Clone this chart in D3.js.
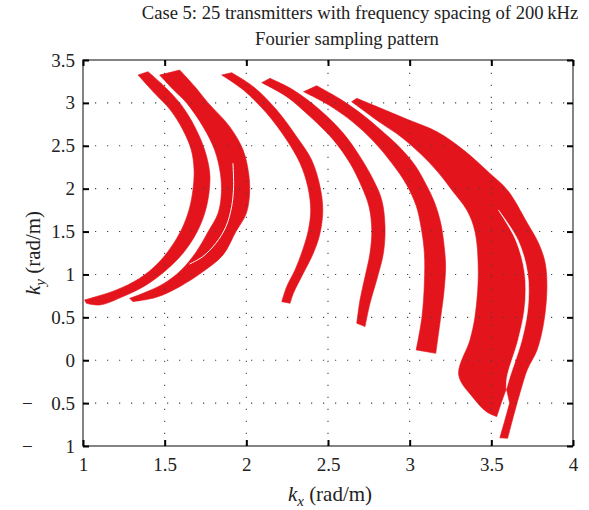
<!DOCTYPE html>
<html>
<head>
<meta charset="utf-8">
<script src="https://cdn.jsdelivr.net/npm/d3@7"></script>
<style>
  body { margin: 0; background: #fff; }
  text { font-family: "Liberation Serif", "DejaVu Serif", serif; fill: #222; }
</style>
</head>
<body>
<div id="chart-area"></div>
<script>
var titleLines = ["Case 5: 25 transmitters with frequency spacing of 200\u2009kHz", "Fourier sampling pattern"];
var xTicks = [1, 1.5, 2, 2.5, 3, 3.5, 4];
var yTicks = [-1, -0.5, 0, 0.5, 1, 1.5, 2, 2.5, 3, 3.5];

var band1Outer = [[1.398,3.364],[1.500,3.189],[1.602,2.976],[1.684,2.723],[1.745,2.451],[1.776,2.179],[1.771,1.946],[1.745,1.713],[1.694,1.480],[1.612,1.247],[1.510,1.052],[1.388,0.878],[1.245,0.742],[1.102,0.644],[1.020,0.664]];
var band1Inner = [[1.337,3.325],[1.439,3.111],[1.535,2.917],[1.612,2.684],[1.663,2.451],[1.680,2.218],[1.673,1.985],[1.649,1.752],[1.602,1.519],[1.541,1.324],[1.459,1.130],[1.347,0.955],[1.204,0.819],[1.082,0.742],[1.010,0.703]];

var band2Outer = [[1.592,3.383],[1.680,3.200],[1.765,3.003],[1.898,2.723],[1.980,2.451],[2.014,2.179],[2.020,1.946],[2.000,1.713],[1.935,1.495],[1.857,1.227],[1.735,1.033],[1.592,0.858],[1.449,0.734],[1.306,0.683]];
var band2Inner = [[1.469,3.325],[1.550,3.160],[1.633,3.003],[1.735,2.723],[1.806,2.451],[1.841,2.179],[1.847,1.946],[1.827,1.713],[1.765,1.495],[1.694,1.266],[1.602,1.052],[1.490,0.889],[1.367,0.780],[1.286,0.722]];
var band2Gap = [[1.918,2.296],[1.922,2.024],[1.910,1.791],[1.875,1.557],[1.813,1.363],[1.733,1.208],[1.653,1.122]];

var band3Outer = [[1.910,3.352],[2.043,3.189],[2.186,2.917],[2.308,2.606],[2.400,2.334],[2.451,2.024],[2.468,1.752],[2.451,1.480],[2.410,1.247],[2.349,1.014],[2.288,0.780],[2.268,0.664]];
var band3Inner = [[1.849,3.325],[1.982,3.150],[2.125,2.878],[2.247,2.568],[2.329,2.296],[2.376,2.024],[2.394,1.752],[2.380,1.519],[2.345,1.286],[2.298,1.052],[2.247,0.858],[2.217,0.683]];

var band4Outer = [[2.145,3.286],[2.288,3.150],[2.451,2.917],[2.594,2.645],[2.696,2.373],[2.778,2.101],[2.829,1.868],[2.849,1.557],[2.839,1.247],[2.798,0.936],[2.757,0.664],[2.727,0.392]];
var band4Inner = [[2.094,3.236],[2.247,3.073],[2.390,2.840],[2.533,2.568],[2.635,2.296],[2.706,2.024],[2.751,1.791],[2.768,1.519],[2.757,1.247],[2.727,0.975],[2.696,0.703],[2.676,0.431]];

var band5Outer = [[2.43,3.20],[2.57,3.05],[2.72,2.85],[2.82,2.69],[2.93,2.50],[3.03,2.28],[3.10,2.05],[3.15,1.85],[3.19,1.60],[3.21,1.35],[3.22,1.10],[3.21,0.80],[3.19,0.50],[3.16,0.08]];
var band5Inner = [[2.35,3.13],[2.50,2.98],[2.65,2.78],[2.78,2.55],[2.89,2.30],[2.98,2.05],[3.04,1.80],[3.07,1.55],[3.09,1.25],[3.09,0.90],[3.075,0.50],[3.04,0.12]];

var band6Outer = [[2.676,3.053],[2.82,2.94],[2.97,2.82],[3.17,2.66],[3.33,2.45],[3.49,2.18],[3.60,1.98],[3.72,1.60],[3.79,1.36],[3.83,1.13],[3.84,0.82],[3.82,0.43],[3.78,0.12],[3.72,-0.11],[3.68,-0.35],[3.64,-0.62],[3.60,-0.91]];
var band6Tail = [[3.552,-0.905],[3.580,-0.720],[3.612,-0.500],[3.592,-0.330],[3.562,-0.490]];
var band6Inner = [[2.645,3.014],[2.82,2.77],[2.95,2.60],[3.07,2.40],[3.17,2.20],[3.26,1.98],[3.35,1.75],[3.40,1.50],[3.42,1.01],[3.40,0.51],[3.37,0.24],[3.30,-0.17],[3.39,-0.44],[3.47,-0.60],[3.533,-0.657]];
var band6GapLeft = [[3.543,1.752],[3.650,1.40],[3.705,1.01],[3.705,0.62],[3.665,0.24],[3.597,-0.19],[3.592,-0.330]];
var band6GapRight = [[3.543,1.752],[3.663,1.40],[3.722,1.01],[3.724,0.62],[3.687,0.24],[3.614,-0.19],[3.592,-0.330]];

var bands = [
  {outer: band1Outer, inner: band1Inner, tail: []},
  {outer: band2Outer, inner: band2Inner, tail: []},
  {outer: band3Outer, inner: band3Inner, tail: []},
  {outer: band4Outer, inner: band4Inner, tail: []},
  {outer: band5Outer, inner: band5Inner, tail: []},
  {outer: band6Outer, inner: band6Inner, tail: band6Tail}
];

//INITIAL SETUP
var W = 589, H = 510;
var margin = {top: 60, right: 16, bottom: 64, left: 83};
var width = W - margin.left - margin.right;
var height = H - margin.top - margin.bottom;
var red = "#e3141c";

var svg = d3.select("#chart-area").append("svg")
  .attr("width", W).attr("height", H);
var graph = svg.append("g")
  .attr("transform", "translate(" + margin.left + "," + margin.top + ")");

//SCALES
var x = d3.scaleLinear().domain([1, 4]).range([0, width]);
var y = d3.scaleLinear().domain([-1, 3.5]).range([height, 0]);

//BANDS
var edge = d3.line().x(function (d) { return x(d[0]); }).y(function (d) { return y(d[1]); })
  .curve(d3.curveCatmullRom);
var straight = d3.line().x(function (d) { return x(d[0]); }).y(function (d) { return y(d[1]); });

function bandPath(b) {
  var p = edge(b.outer);
  if (b.tail.length) p += straight(b.tail).replace("M", "L");
  p += edge(b.inner.slice().reverse()).replace("M", "L");
  return p + "Z";
}

graph.selectAll(".band").data(bands).enter().append("path")
  .attr("class", "band")
  .attr("d", bandPath)
  .attr("fill", red)
  .attr("stroke", red)
  .attr("stroke-width", 0.6);

graph.append("path")
  .attr("d", edge(band2Gap))
  .attr("fill", "none").attr("stroke", "#fff").attr("stroke-width", 1);

graph.append("path")
  .attr("d", edge(band6GapLeft) + edge(band6GapRight.slice().reverse()).replace("M", "L") + "Z")
  .attr("fill", "#fff").attr("stroke", "#fff").attr("stroke-width", 0.6);

//GRID
var grid = graph.append("g").attr("stroke", "#444").attr("stroke-width", 1.1)
  .attr("stroke-dasharray", "1.2 10.8");
grid.selectAll(".gx").data(xTicks.slice(1, -1)).enter().append("line")
  .attr("x1", function (d) { return x(d); }).attr("x2", function (d) { return x(d); })
  .attr("y1", height).attr("y2", 0);
grid.selectAll(".gy").data(yTicks.slice(1, -1)).enter().append("line")
  .attr("y1", function (d) { return y(d); }).attr("y2", function (d) { return y(d); })
  .attr("x1", 0).attr("x2", width);

//FRAME
graph.append("rect")
  .attr("width", width).attr("height", height)
  .attr("fill", "none").attr("stroke", "#333").attr("stroke-width", 1.2);

//AXES
var xAxis = graph.append("g").attr("transform", "translate(0," + height + ")")
  .call(d3.axisBottom(x).tickValues(xTicks).tickSize(-6).tickPadding(12).tickFormat(d3.format("")));
var xTop = graph.append("g")
  .call(d3.axisTop(x).tickValues(xTicks).tickSize(-6).tickFormat(""));
// negative labels: digits right aligned, minus sign set apart on the left (as in the source figure)
var yAxis = graph.append("g")
  .call(d3.axisLeft(y).tickValues(yTicks).tickSize(-6).tickPadding(8)
    .tickFormat(function (d) { return d3.format("")(Math.abs(d)); }));
var yRight = graph.append("g").attr("transform", "translate(" + width + ",0)")
  .call(d3.axisRight(y).tickValues(yTicks).tickSize(-6).tickFormat(""));

yAxis.selectAll(".tick").filter(function (d) { return d < 0; })
  .append("text")
  .attr("x", -61).attr("dy", "0.32em")
  .attr("text-anchor", "start")
  .text("\u2212");

[xAxis, xTop, yAxis, yRight].forEach(function (a) {
  a.select(".domain").remove();
  a.selectAll(".tick line").attr("stroke", "#000").attr("stroke-width", 2);
  a.selectAll("text").attr("font-size", 19)
    .attr("font-family", "Liberation Serif, serif").attr("fill", "#222");
});

//LABELS
svg.selectAll(".title").data(titleLines).enter().append("text")
  .attr("x", function (d, i) { return i === 0 ? 360 : 347; })
  .attr("y", function (d, i) { return 19 + i * 26; })
  .attr("text-anchor", "middle").attr("font-size", 18.6)
  .text(function (d) { return d; });

var xLabel = svg.append("text")
  .attr("x", 330).attr("y", 501)
  .attr("text-anchor", "middle").attr("font-size", 21);
xLabel.append("tspan").attr("font-style", "italic").text("k");
xLabel.append("tspan").attr("font-style", "italic").attr("font-size", 15).attr("dy", 5).text("x");
xLabel.append("tspan").attr("dy", -5).text(" (rad/m)");

var yLabel = svg.append("text")
  .attr("transform", "translate(40," + (margin.top + height / 2) + ") rotate(-90)")
  .attr("text-anchor", "middle").attr("font-size", 21);
yLabel.append("tspan").attr("font-style", "italic").text("k");
yLabel.append("tspan").attr("font-style", "italic").attr("font-size", 15).attr("dy", 5).text("y");
yLabel.append("tspan").attr("dy", -5).text(" (rad/m)");
</script>
</body>
</html>
